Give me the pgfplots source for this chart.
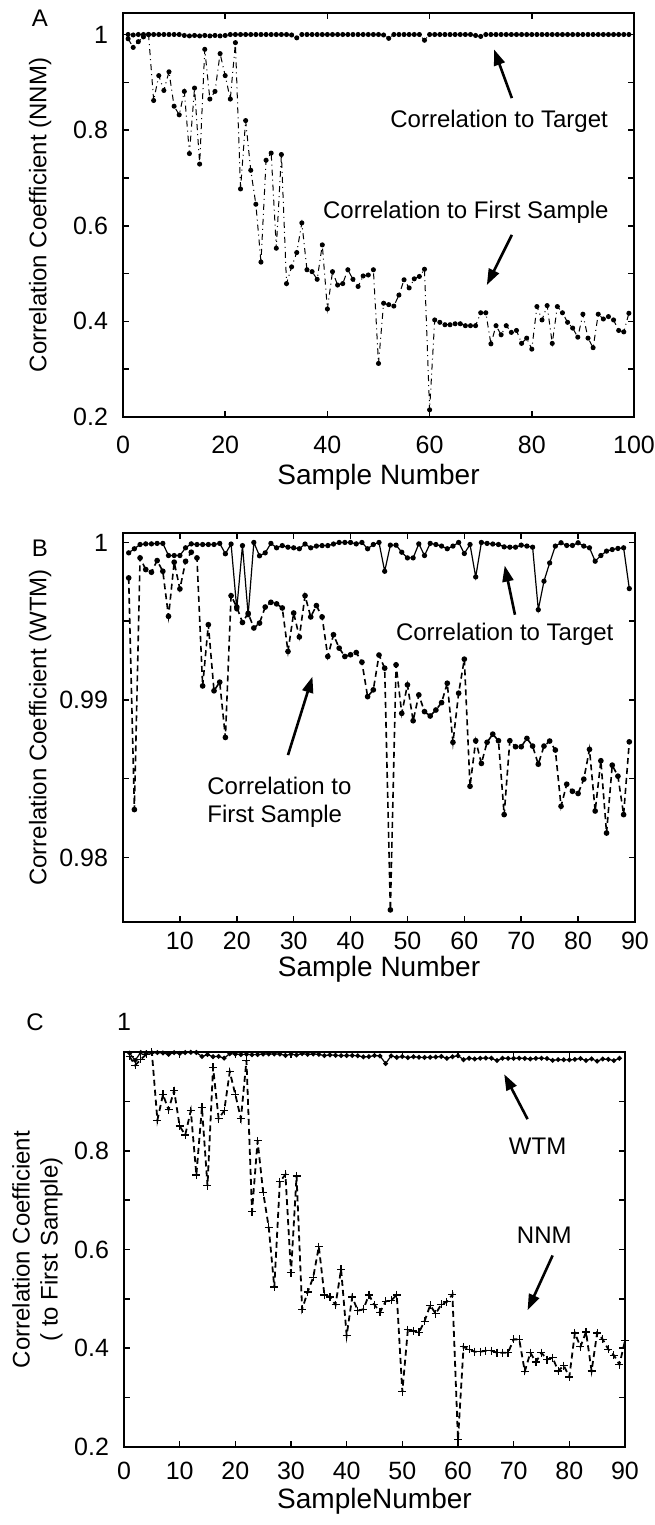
\documentclass[border=0pt]{standalone}
\usepackage{fontspec}
\setmainfont{Liberation Sans}
\usepackage{pgfplots}
\pgfplotsset{compat=1.18}
\usepackage{pgfplotstable}
\usetikzlibrary{arrows.meta}

\pgfplotstableread{
x y
1 0.991
2 0.973
3 0.985
4 0.995
5 1.000
6 0.862
7 0.914
8 0.883
9 0.922
10 0.850
11 0.832
12 0.881
13 0.751
14 0.888
15 0.729
16 0.969
17 0.865
18 0.881
19 0.960
20 0.914
21 0.865
22 0.983
23 0.677
24 0.820
25 0.716
26 0.645
27 0.524
28 0.737
29 0.752
30 0.553
31 0.749
32 0.479
33 0.514
34 0.544
35 0.606
36 0.508
37 0.504
38 0.488
39 0.560
40 0.426
41 0.504
42 0.476
43 0.479
44 0.508
45 0.488
46 0.473
47 0.495
48 0.497
49 0.508
50 0.312
51 0.438
52 0.435
53 0.432
54 0.455
55 0.487
56 0.470
57 0.489
58 0.494
59 0.509
60 0.215
61 0.403
62 0.398
63 0.393
64 0.393
65 0.395
66 0.395
67 0.391
68 0.391
69 0.391
70 0.418
71 0.418
72 0.353
73 0.391
74 0.372
75 0.391
76 0.377
77 0.381
78 0.354
79 0.365
80 0.342
81 0.431
82 0.403
83 0.433
84 0.354
85 0.431
86 0.418
87 0.398
88 0.386
89 0.367
90 0.415
91 0.365
92 0.345
93 0.415
94 0.405
95 0.410
96 0.403
97 0.381
98 0.378
99 0.417
}\Afirst

\pgfplotstableread{
x y
1 1.000
2 0.999
3 1.000
4 1.000
5 1.000
6 1.000
7 1.000
8 1.000
9 1.000
10 1.000
11 1.000
12 0.998
13 0.997
14 0.998
15 0.997
16 0.998
17 0.997
18 0.998
19 0.997
20 0.998
21 1.000
22 1.000
23 1.000
24 1.000
25 1.000
26 1.000
27 1.000
28 1.000
29 1.000
30 1.000
31 1.000
32 1.000
33 0.999
34 0.993
35 1.000
36 1.000
37 1.000
38 1.000
39 1.000
40 1.000
41 1.000
42 1.000
43 1.000
44 1.000
45 1.000
46 1.000
47 1.000
48 1.000
49 1.000
50 1.000
51 0.999
52 0.992
53 1.000
54 1.000
55 1.000
56 1.000
57 1.000
58 1.000
59 0.988
60 1.000
61 1.000
62 1.000
63 1.000
64 1.000
65 1.000
66 1.000
67 1.000
68 1.000
69 0.998
70 0.996
71 1.000
72 1.000
73 1.000
74 1.000
75 1.000
76 1.000
77 1.000
78 1.000
79 1.000
80 1.000
81 1.000
82 1.000
83 1.000
84 1.000
85 1.000
86 1.000
87 1.000
88 1.000
89 1.000
90 1.000
91 1.000
92 1.000
93 1.000
94 1.000
95 1.000
96 1.000
97 1.000
98 1.000
99 1.000
}\Atarget

\pgfplotstableread{
x y
1 0.99934
2 0.99960
3 0.99987
4 0.99991
5 0.99991
6 0.99994
7 0.99994
8 0.99917
9 0.99917
10 0.99917
11 0.99966
12 0.99991
13 0.99987
14 0.99987
15 0.99987
16 0.99987
17 0.99994
18 0.99928
19 0.99990
20 0.99578
21 0.99980
22 0.99541
23 1.00000
24 0.99915
25 0.99934
26 0.99994
27 0.99966
28 0.99980
29 0.99970
30 0.99966
31 0.99960
32 0.99990
33 0.99966
34 0.99977
35 0.99980
36 0.99980
37 0.99990
38 1.00000
39 1.00000
40 1.00000
41 0.99991
42 1.00000
43 0.99960
44 0.99987
45 1.00000
46 0.99817
47 0.99983
48 0.99983
49 0.99938
50 0.99902
51 0.99902
52 0.99991
53 0.99917
54 0.99994
55 0.99987
56 0.99977
57 0.99960
58 0.99977
59 1.00000
60 0.99930
61 0.99987
62 0.99781
63 1.00000
64 0.99994
65 0.99990
66 0.99987
67 0.99972
68 0.99970
69 0.99970
70 0.99983
71 0.99977
72 0.99970
73 0.99573
74 0.99754
75 0.99870
76 0.99977
77 0.99998
78 0.99981
79 0.99981
80 0.99998
81 0.99977
82 0.99966
83 0.99881
84 0.99917
85 0.99945
86 0.99955
87 0.99962
88 0.99966
89 0.99707
}\Btarget

\pgfplotstableread{
x y
1 0.99775
2 0.98304
3 0.99902
4 0.99828
5 0.99811
6 0.99885
7 0.99817
8 0.99531
9 0.99875
10 0.99705
11 0.99880
12 0.99938
13 0.99902
14 0.99089
15 0.99478
16 0.99058
17 0.99113
18 0.98762
19 0.99662
20 0.99590
21 0.99492
22 0.99550
23 0.99457
24 0.99488
25 0.99590
26 0.99620
27 0.99610
28 0.99584
29 0.99308
30 0.99552
31 0.99400
32 0.99662
33 0.99527
34 0.99599
35 0.99527
36 0.99276
37 0.99414
38 0.99329
39 0.99276
40 0.99287
41 0.99301
42 0.99240
43 0.99021
44 0.99064
45 0.99285
46 0.99202
47 0.97667
48 0.99223
49 0.98915
50 0.99096
51 0.98868
52 0.99032
53 0.98926
54 0.98898
55 0.98936
56 0.98983
57 0.99106
58 0.98731
59 0.99043
60 0.99259
61 0.98452
62 0.98741
63 0.98597
64 0.98731
65 0.98783
66 0.98741
67 0.98272
68 0.98741
69 0.98703
70 0.98703
71 0.98756
72 0.98707
73 0.98592
74 0.98707
75 0.98739
76 0.98682
77 0.98325
78 0.98465
79 0.98420
80 0.98406
81 0.98497
82 0.98686
83 0.98295
84 0.98614
85 0.98155
86 0.98586
87 0.98516
88 0.98272
89 0.98734
}\Bfirst

\newcommand{\fs}{\fontsize{12}{14}\selectfont}
\newcommand{\fl}{\fontsize{14}{16}\selectfont}
\newcommand{\ft}{\fontsize{12.5}{14}\selectfont}
\pgfplotsset{
  panel/.style={
    scale only axis,
    font=\fs,
    tick align=inside,
    major tick length=3pt, minor tick length=3pt,
    axis line style={line width=1.1pt},
    tick style={black, line width=0.8pt},
    /pgf/number format/assume math mode=true,
    ticklabel style={font=\ft},
    yticklabel style={xshift=-4pt},
    ylabel style={font=\fs},
    xlabel style={font=\fl},
  }
}
\tikzset{ann/.style={-{Triangle[length=8pt,width=5.5pt]}, line width=1.3pt}}

\begin{document}
\begin{tikzpicture}
\path[use as bounding box] (0,0) rectangle (327pt,-762.5pt);

\node[font=\fs] at (20pt,-9pt) {A};
\node[font=\fs] at (20pt,-274pt) {B};
\node[font=\fs] at (17.5pt,-511pt) {C};

% ---------------- Panel A
\begin{axis}[panel,
  at={(61.5pt,-208.5pt)}, anchor=south west,
  width=255.5pt, height=202pt,
  xmin=0, xmax=100, ymin=0.2, ymax=1.045,
  xtick={0,20,40,60,80,100},
  ytick={0.2,0.4,0.6,0.8,1},
  minor ytick={0.3,0.5,0.7,0.9},
  xticklabel style={yshift=-6pt},
  xlabel={Sample Number},
  ylabel={Correlation Coefficient (NNM)},
  xlabel style={at={(axis description cs:0.5,-0.15)}, anchor=center},
  ylabel style={at={(axis description cs:-0.162,0.5)}, anchor=center},
]
\addplot[black, line width=0.5pt, densely dotted, mark=*, mark size=1pt, mark options={solid}] table[x=x,y=y] {\Atarget};
\addplot[black, line width=0.5pt, dash dot, mark=*, mark size=1pt, mark options={solid}] table[x=x,y=y] {\Afirst};
\node[font=\fs] at (axis cs:73.6,0.818) {Correlation to Target};
\draw[ann] (axis cs:76.1,0.867) -- (axis cs:72.6,0.969);
\node[font=\fs] at (axis cs:67.1,0.628) {Correlation to First Sample};
\draw[ann] (axis cs:76.1,0.581) -- (axis cs:71.2,0.476);
\end{axis}

% ---------------- Panel B
\begin{axis}[panel,
  at={(61.5pt,-461pt)}, anchor=south west,
  width=256pt, height=194.5pt,
  xmin=0, xmax=90, ymin=0.9759, ymax=1.0006,
  xtick={10,20,30,40,50,60,70,80,90},
  ytick={0.98,0.99,1},
  minor ytick={0.985,0.995},
  xticklabel style={yshift=-1.5pt},
  yticklabel style={/pgf/number format/fixed, /pgf/number format/precision=2},
  scaled y ticks=false,
  xlabel={Sample Number},
  ylabel={Correlation Coefficient (WTM)},
  xlabel style={at={(axis description cs:0.5,-0.122)}, anchor=center},
  ylabel style={at={(axis description cs:-0.162,0.5)}, anchor=center},
]
\addplot[black, line width=0.6pt, mark=*, mark size=1pt] table[x=x,y=y] {\Btarget};
\addplot[black, line width=0.8pt, dash pattern=on 3pt off 2pt, mark=*, mark size=1pt, mark options={solid}] table[x=x,y=y] {\Bfirst};
\node[font=\fs] at (axis cs:67.1,0.99414) {Correlation to Target};
\draw[ann] (axis cs:68.9,0.99541) -- (axis cs:67.1,0.99853);
\node[font=\fs, align=left] at (axis cs:27.5,0.98347) {Correlation to\\First Sample};
\draw[ann] (axis cs:29.0,0.9865) -- (axis cs:33.3,0.99148);
\end{axis}

% ---------------- Panel C
\begin{axis}[panel,
  at={(62pt,-723.5pt)}, anchor=south west,
  width=250.5pt, height=197.5pt,
  xmin=0, xmax=90, ymin=0.2, ymax=1.0,
  clip=false,
  xtick={0,10,20,30,40,50,60,70,80,90},
  ytick={0.2,0.4,0.6,0.8,1},
  yticklabels={0.2,0.4,0.6,0.8,{}},
  minor ytick={0.3,0.5,0.7,0.9},
  xticklabel style={yshift=-4pt},
  xlabel={SampleNumber},
  ylabel={Correlation Coefficient\\( to First Sample)},
  xlabel style={at={(axis description cs:0.5,-0.138)}, anchor=center},
  ylabel style={at={(axis description cs:-0.173,0.5)}, anchor=center, align=center},
]
\addplot[black, line width=0.6pt, mark=*, mark size=0.9pt] table[x=x,y=y] {\Bfirst};
\addplot[black, line width=0.9pt, dash pattern=on 3pt off 2pt, mark=+, mark size=2pt, mark options={solid, line width=0.6pt}, restrict x to domain=0:90] table[x=x,y=y] {\Afirst};
\node[font=\ft] at (axis cs:0,1.0) [yshift=15pt] {1};
\node[font=\fs] at (axis cs:74.3,0.809) {WTM};
\draw[ann] (axis cs:72.5,0.864) -- (axis cs:68.3,0.955);
\node[font=\fs] at (axis cs:75.5,0.628) {NNM};
\draw[ann] (axis cs:77.0,0.588) -- (axis cs:72.5,0.477);
\end{axis}
\end{tikzpicture}
\end{document}
